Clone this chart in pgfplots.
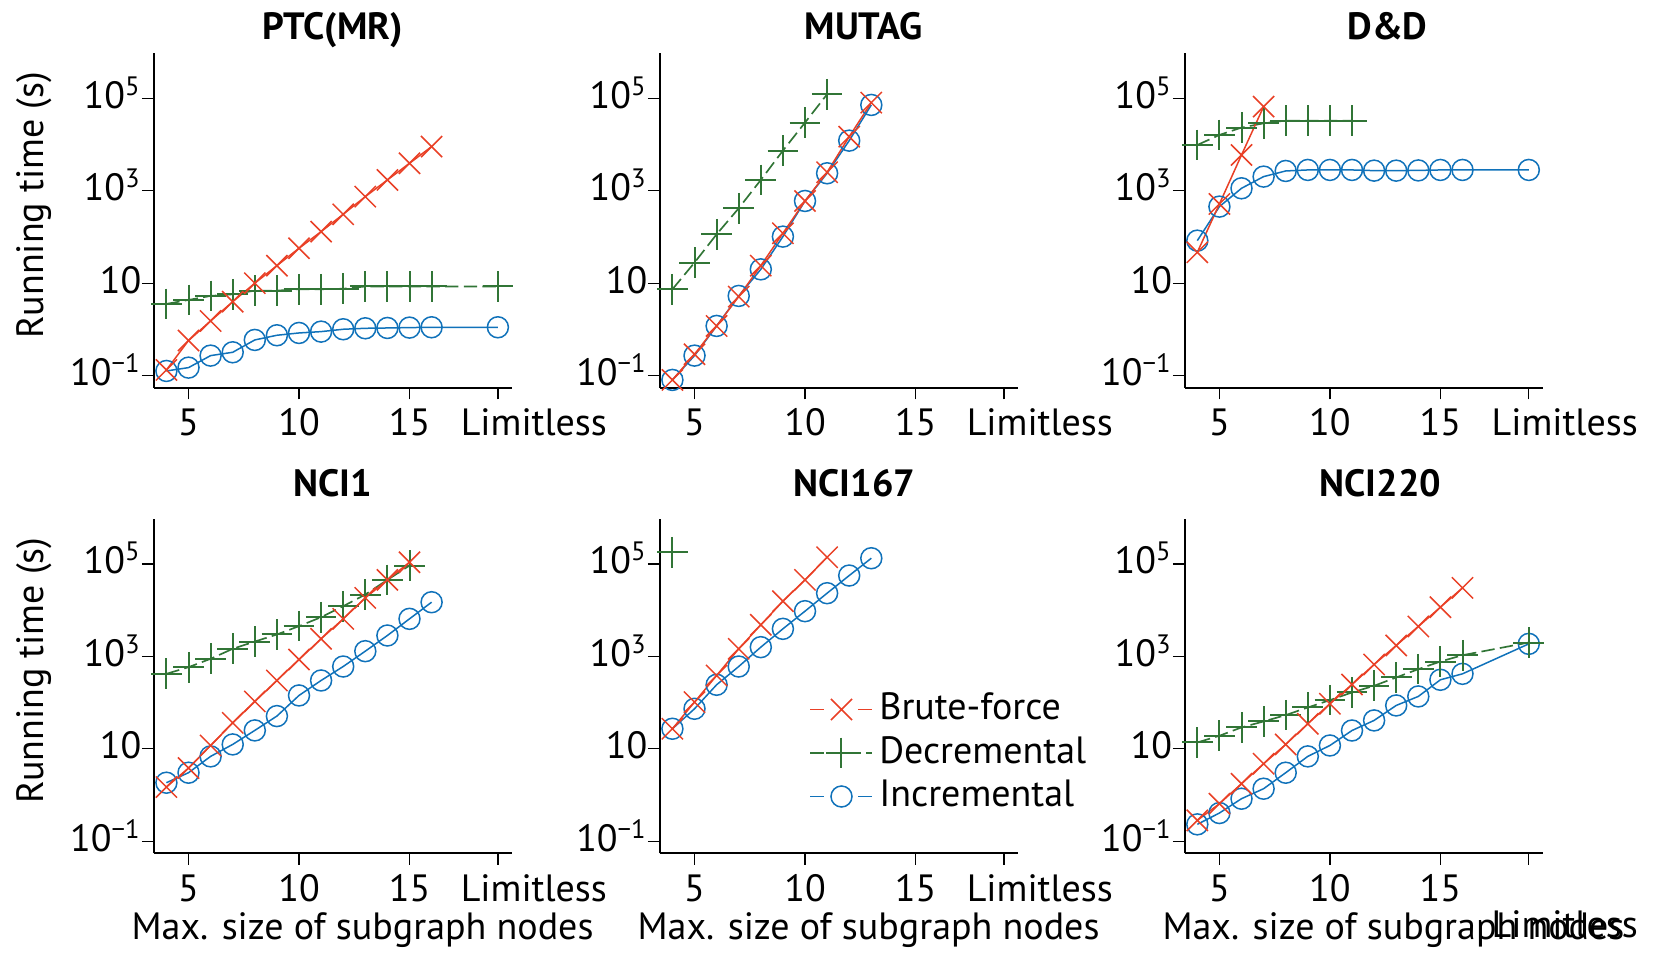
\documentclass[border=0pt]{standalone}
\usepackage{fontspec}
\setmainfont{PT Sans}
\usepackage{pgfplots}
\pgfplotsset{compat=1.18}

\definecolor{cR}{RGB}{233,64,38}
\definecolor{cG}{RGB}{49,117,54}
\definecolor{cB}{RGB}{16,114,186}

\pgfplotsset{
  rkBF/.style={color=cR, line width=0.45pt, mark=x, mark size=4.5pt, mark options={solid}},
  rkDec/.style={color=cG, line width=0.5pt, dash pattern=on 4pt off 1.6pt, mark=+, mark size=4.6pt, mark options={solid, line width=0.6pt}},
  rkInc/.style={color=cB, line width=0.45pt, mark=o, mark size=3.15pt, mark options={solid, fill=white}},
  rkGapLeg/.style={legend image code/.code={
      \draw[##1,mark=none] (0pt,0pt) -- (4.2pt,0pt);
      \draw[##1,mark=none] (14.4pt,0pt) -- (18.6pt,0pt);
      \draw[##1,only marks] plot coordinates {(9.3pt,0pt)};}},
  rkFullLeg/.style={legend image code/.code={
      \draw[##1,mark=none] (0pt,0pt) -- (18.6pt,0pt);
      \draw[##1,only marks] plot coordinates {(9.3pt,0pt)};}},
  rkPanel/.style={
    anchor=south west, scale only axis, width=107.4pt, height=100.32pt,
    xmin=3.42, xmax=19.62, ymin=0.05495, ymax=9.4e5,
    axis lines*=left, axis line style={line width=0.6pt},
    tick align=outside, major tick length=3.5pt, tick style={line width=0.4pt, black},
    xtick={5,10,15,19}, xticklabels={5,10,15,\hspace*{21.6pt}Limitless},
    ytick={0.1,10,1000,100000},
    yticklabels={10\textsuperscript{−1},10,10\textsuperscript{3},10\textsuperscript{5}},
    xticklabel style={anchor=base, yshift=-10.9pt},
    yticklabel style={anchor=base east, inner xsep=0pt, xshift=0pt, yshift=-3pt},
    every axis title/.style={at={(0.5,1)}, anchor=base, yshift=4pt, font=\bfseries},
    every axis x label/.style={at={(0.5,0)}, anchor=base, xshift=9pt, yshift=-26pt},
    every axis y label/.style={at={(0,0.5)}, xshift=-35.7pt, yshift=4.6pt, rotate=90, anchor=center},
    clip=false,
  },
}

\begin{document}
\fontsize{11.4}{13.6}\selectfont
\begin{tikzpicture}
\path[use as bounding box] (0pt,0pt) rectangle (496.5pt,-285.9pt);

% PTC(MR)
\begin{semilogyaxis}[rkPanel, at={(46.08pt,-116.31pt)}, title={PTC(MR)}, ylabel={Running time (s)}]
\addplot[rkInc] coordinates {(4,0.1265) (5,0.1493) (6,0.2716) (7,0.3206) (8,0.5929) (9,0.7482) (10,0.8395) (11,0.8974) (12,1.009) (13,1.059) (14,1.076) (15,1.096) (16,1.114) (19,1.114)};
\addplot[rkDec] coordinates {(4,3.565) (5,4.345) (6,5.309) (7,5.754) (8,6.918) (9,6.918) (10,7.413) (11,7.413) (12,7.586) (13,8.511) (14,8.511) (15,8.511) (16,8.511) (19,8.511)};
\addplot[rkBF] coordinates {(4,0.1330) (5,0.5754) (6,1.528) (7,3.981) (8,10) (9,23.99) (10,57.02) (11,130.6) (12,309.7) (13,746.4) (14,1714) (15,3926) (16,9016)};
\end{semilogyaxis}

% MUTAG
\begin{semilogyaxis}[rkPanel, at={(197.88pt,-116.31pt)}, title={MUTAG}, title style={xshift=7.5pt}]
\addplot[rkInc] coordinates {(4,0.0809) (5,0.2716) (6,1.191) (7,5.309) (8,19.95) (9,101.9) (10,601.2) (11,2388) (12,12134) (13,71779)};
\addplot[rkDec] coordinates {(4,7.396) (5,27.93) (6,114.3) (7,417.8) (8,1714) (9,7379) (10,29785) (11,122180)};
\addplot[rkBF] coordinates {(4,0.0809) (5,0.2904) (6,1.191) (7,5.129) (8,23.99) (9,120.2) (10,601.2) (11,2512) (12,14791) (13,80538)};
\end{semilogyaxis}

% D&D
\begin{semilogyaxis}[rkPanel, at={(355.35pt,-116.31pt)}, title={D\&D}, title style={xshift=7.2pt}]
\addplot[rkInc] coordinates {(4,83.37) (5,453.9) (6,1130) (7,2023) (8,2679) (9,2818) (10,2818) (11,2818) (12,2723) (13,2723) (14,2754) (15,2818) (16,2818) (19,2818)};
\addplot[rkDec] coordinates {(4,9772) (5,16106) (6,23227) (7,28774) (8,32885) (9,32885) (10,32885) (11,32885)};
\addplot[rkBF] coordinates {(4,46.67) (5,517.6) (6,5943) (7,66069)};
\end{semilogyaxis}

% NCI1
\begin{semilogyaxis}[rkPanel, at={(46.08pt,-255.99pt)}, title={NCI1}, title style={yshift=2.7pt},
  ylabel={Running time (s)}, xlabel={Max. size of subgraph nodes}]
\addplot[rkInc] coordinates {(4,1.849) (5,3.041) (6,6.855) (7,12.45) (8,25.00) (9,51.05) (10,142.6) (11,300.6) (12,602.6) (13,1294) (14,2825) (15,6471) (16,14825)};
\addplot[rkDec] coordinates {(4,418.8) (5,583.4) (6,885.1) (7,1455) (8,2089) (9,2972) (10,4498) (11,7031) (12,12162) (13,21727) (14,45082) (15,92045)};
\addplot[rkBF] coordinates {(4,1.489) (5,3.837) (6,11.80) (7,36.48) (8,105.7) (9,300.6) (10,855.1) (11,2393) (12,6471) (13,18408) (14,45082) (15,108643)};
\end{semilogyaxis}

% NCI167
\begin{semilogyaxis}[rkPanel, at={(197.88pt,-255.99pt)}, title={NCI167}, title style={xshift=4.8pt, yshift=2.7pt},
  xlabel={Max. size of subgraph nodes},
  legend cell align=left,
  legend style={draw=none, fill=none, inner sep=0pt, at={(0.4173,0.2999)}, anchor=west,
    row sep=0pt, column sep=1.8pt, nodes={inner sep=0pt, text height=9.6pt, text depth=3.45pt}}]
\addlegendimage{rkBF, rkGapLeg}
\addlegendentry{Brute-force}
\addlegendimage{rkDec, rkFullLeg}
\addlegendentry{Decremental}
\addlegendimage{rkInc, rkGapLeg}
\addlegendentry{Incremental}
\addplot[rkInc, forget plot] coordinates {(4,27.16) (5,73.45) (6,242.7) (7,602.6) (8,1581) (9,3936) (10,9484) (11,23227) (12,55976) (13,132434)};
\addplot[rkDec, forget plot] coordinates {(4,178649)};
\addplot[rkBF, forget plot] coordinates {(4,27.16) (5,102.3) (6,385.5) (7,1455) (8,4797) (9,15596) (10,45082) (11,139316)};
\end{semilogyaxis}

% NCI220
\begin{semilogyaxis}[rkPanel, at={(355.35pt,-255.99pt)}, title={NCI220}, title style={xshift=5.1pt, yshift=2.7pt},
  xlabel={Max. size of subgraph nodes},
  xticklabels={5,10,15,\raisebox{-11pt}[0pt][0pt]{\hspace*{21.6pt}Limitless}}]
\addplot[rkInc] coordinates {(4,0.2323) (5,0.4083) (6,0.8337) (7,1.371) (8,3.041) (9,6.855) (10,11.80) (11,24.89) (12,41.11) (13,86.70) (14,135.8) (15,311.2) (16,418.8) (19,1862)};
\addplot[rkDec] coordinates {(4,13.74) (5,19.14) (6,29.04) (7,39.08) (8,53.58) (9,78.52) (10,113.0) (11,165.6) (12,230.7) (13,349.1) (14,528.4) (15,772.7) (16,1059) (19,1991)};
\addplot[rkBF] coordinates {(4,0.2831) (5,0.6501) (6,1.758) (7,4.753) (8,12.45) (9,34.83) (10,94.19) (11,246.6) (12,666.8) (13,1718) (14,4426) (15,11561) (16,30269)};
\end{semilogyaxis}
\end{tikzpicture}
\end{document}
